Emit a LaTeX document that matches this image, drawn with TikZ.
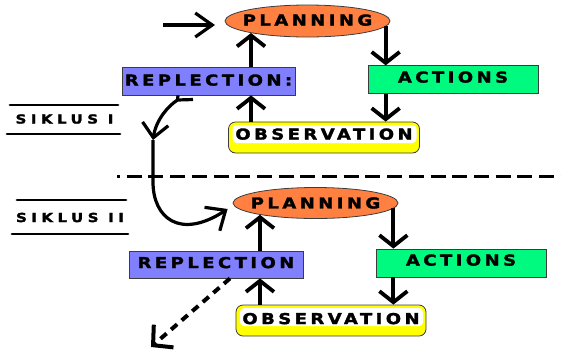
\documentclass[tikz,border=0pt]{standalone}
\usepackage{fontspec}
\usetikzlibrary{arrows.meta,shapes.geometric,calc}
\newfontfamily\labfont{DejaVu Sans}[LetterSpace=23,FakeBold=2,FakeStretch=1.2]
\newfontfamily\sikfont{DejaVu Sans}[LetterSpace=36,FakeBold=2,FakeStretch=1.2]
\newcommand\lbl[2][0pt]{\makebox[0pt]{\raisebox{#1}{\labfont\bfseries\fontsize{15}{16}\selectfont #2}}}
\newcommand\slbl[1]{\makebox[0pt]{\sikfont\bfseries\fontsize{12.5}{13}\selectfont #1}}
\definecolor{planc}{RGB}{255,128,64}
\definecolor{repc}{RGB}{128,128,255}
\definecolor{actc}{RGB}{0,250,128}
\definecolor{obsc}{RGB}{255,255,0}
\definecolor{edgec}{RGB}{60,60,60}
\begin{document}
\begin{tikzpicture}[x=1pt,y=-1pt,
  ell/.style={ellipse,fill=planc,draw=edgec,line width=0.8pt,inner sep=0pt,minimum width=165pt,minimum height=32pt},
  boxs/.style={rectangle,draw=edgec,line width=0.8pt,inner sep=0pt},
  repbox/.style={boxs,fill=repc,minimum width=173pt,minimum height=28pt},
  actbox/.style={boxs,fill=actc,minimum width=170pt,minimum height=27.5pt},
  obsbox/.style={boxs,fill=obsc,rounded corners=7pt,minimum width=191pt,minimum height=31pt,
    path picture={\fill[white,rounded corners=4pt]
      ([xshift=4pt,yshift=-3pt]path picture bounding box.north west) rectangle
      ([xshift=-3pt,yshift=10pt]path picture bounding box.south east);}},
  sik/.style={inner sep=0pt},
  rule/.style={line width=2.8pt,line cap=round},
  arr/.style={line width=3.8pt,-{Straight Barb[length=11pt,width=28pt]}},
  curv/.style={line width=3.2pt},
  dashline/.style={line width=3.8pt,dash pattern=on 15pt off 6.7pt,dash phase=12pt}
]
\useasboundingbox (0,0) rectangle (561,349);
% cycle I
\node[ell] (plan1) at (307.5,21) {\lbl[2pt]{PLANNING}};
\node[repbox] (rep1) at (208.5,81) {\lbl[2pt]{REPLECTION:}};
\node[actbox] (act1) at (453,79.5) {\lbl[5pt]{ACTIONS}};
\node[obsbox] (obs1) at (324,137.5) {\lbl[7pt]{OBSERVATION}};
% cycle II
\node[ell,minimum height=31pt] (plan2) at (315.5,203) {\lbl{PLANNING}};
\node[repbox,minimum width=174pt,minimum height=27pt] (rep2) at (216,264.5) {\lbl[4pt]{REPLECTION}};
\node[actbox,minimum height=28pt] (act2) at (461,263) {\lbl[6pt]{ACTIONS}};
\node[obsbox,minimum width=190pt] (obs2) at (331,320.5) {\lbl[4pt]{OBSERVATION}};
% labels
\node[sik] (sik1) at (64.5,119) {\slbl{SIKLUS I}};
\node[sik] (sik2) at (70,217.5) {\slbl{SIKLUS II}};
\draw[rule] (10,105) -- (118,105);
\draw[rule] (7,134) -- (120,134);
\draw[rule] (17,200) -- (126,200);
\draw[rule] (12,234) -- (128,234);
% separator
\draw[dashline] (117,176.5) -- (561,176.5);
% entry arrow
\coordinate (inS) at (163,25);
\coordinate (inE) at (215,25);
\draw[line width=3.2pt,-{Straight Barb[length=17pt,width=24pt]}] (inS) -- (inE);
% cycle I arrows
\draw[arr] (rep1.north -| plan1.192) -- (plan1.192);
\draw[arr] (obs1.north -| plan1.192) -- (rep1.south -| plan1.192);
\draw[arr] (plan1.-4) -- (act1.north -| plan1.-4);
\draw[arr] (act1.south -| plan1.-4) -- (obs1.north -| plan1.-4);
% cycle II arrows
\draw[arr] (rep2.north -| plan2.192) -- (plan2.192);
\draw[arr] (obs2.north -| plan2.192) -- (rep2.south -| plan2.192);
\draw[arr] (plan2.-4) -- (act2.north -| plan2.-4);
\draw[arr] (act2.south -| plan2.-4) -- (obs2.north -| plan2.-4);
% transition curve
\coordinate (c178) at (178,0);
\coordinate (mid1) at (153,140);
\coordinate (tip2) at ($(plan2.west)+(-5,6)$);
\draw[curv] (rep1.south -| c178) -- (177.5,100);
\draw[curv,-{Straight Barb[length=14pt,width=26pt]}] (193,99.5) -- (177.5,100) .. controls (168,106) and (156,120) .. (mid1);
\draw[curv,-{Straight Barb[length=16pt,width=28pt]}] (mid1) -- (153,182) .. controls (153,218) and (180,240) .. (tip2);
% continuing dashed arrow
\coordinate (c230) at (230,0);
\coordinate (dtip) at (151,347);
\draw[line width=4pt,dash pattern=on 8pt off 6pt,-{Straight Barb[length=14pt,width=30pt]}] (rep2.south -| c230) -- (dtip);
\end{tikzpicture}
\end{document}
